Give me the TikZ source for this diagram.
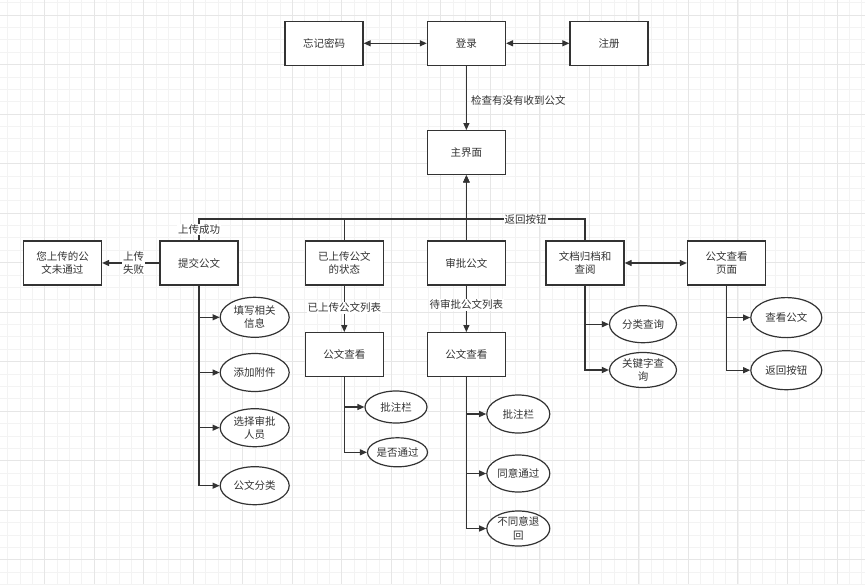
\documentclass[tikz,border=0pt]{standalone}
\usepackage{fontspec}
\setmainfont{Noto Sans CJK SC}
\usetikzlibrary{arrows.meta,shapes.geometric,calc}
\definecolor{ink}{HTML}{333333}
\definecolor{gminor}{HTML}{F3F3F3}
\definecolor{gmajor}{HTML}{E6E6E6}
\tikzset{
  box/.style={draw=ink, line width=1.3pt, fill=white, minimum width=78pt, minimum height=44pt, inner sep=1pt, align=center, text=ink, font=\fontsize{10.5}{13.3}\selectfont},
  oval/.style={ellipse, draw=ink, line width=1.2pt, fill=white, inner sep=0pt, align=center, text=ink, font=\fontsize{10.5}{13.3}\selectfont},
  conn/.style={draw=ink, line width=1.2pt},
  arr/.style={conn, -{Triangle[length=7pt,width=6pt]}},
  dbl/.style={conn, {Triangle[length=7pt,width=6pt]}-{Triangle[length=7pt,width=6pt]}},
  lbl/.style={fill=white, inner sep=1pt, text=ink, align=center, font=\fontsize{10.5}{13.3}\selectfont},
}
\begin{document}
\begin{tikzpicture}[x=1pt, y=-1pt]
\useasboundingbox (0,0) rectangle (865,584);
\fill[white] (0,0) rectangle (865,584);
% grid
\foreach \i in {-3,...,66} {
  \draw[gminor, line width=0.8pt] ({44.7+12.38*\i},0) -- ({44.7+12.38*\i},584);
}
\foreach \j in {-1,...,46} {
  \draw[gminor, line width=0.8pt] (0,{15+12.38*\j}) -- (865,{15+12.38*\j});
}
\foreach \i in {-1,...,17} {
  \draw[gmajor, line width=1pt] ({44.7+49.52*\i},0) -- ({44.7+49.52*\i},584);
}
\foreach \j in {0,...,12} {
  \draw[gmajor, line width=1pt] (0,{15+49.52*\j}) -- (865,{15+49.52*\j});
}

% boxes
\node[box] (forget) at (324,43.3) {忘记密码};
\node[box] (login) at (466.4,43.3) {登录};
\node[box] (reg) at (609,43.3) {注册};
\node[box] (main) at (466.4,152.7) {主界面};
\node[box] (fail) at (62.5,263) {您上传的公\\文未通过};
\node[box] (submit) at (199,263) {提交公文};
\node[box] (status) at (344.3,263) {已上传公文\\的状态};
\node[box] (approve) at (466.4,263) {审批公文};
\node[box] (archive) at (585,263) {文档归档和\\查阅};
\node[box] (viewpage) at (726.5,263) {公文查看\\页面};
\node[box] (view1) at (344.3,354.7) {公文查看};
\node[box] (view2) at (466.4,354.7) {公文查看};

% ellipses
\node[oval, minimum width=69pt, minimum height=40pt] (e1) at (254.7,317.3) {填写相关\\信息};
\node[oval, minimum width=69pt, minimum height=38pt] (e2) at (254.7,372.5) {添加附件};
\node[oval, minimum width=69pt, minimum height=38pt] (e3) at (254.7,427.7) {选择审批\\人员};
\node[oval, minimum width=69pt, minimum height=38pt] (e4) at (254.7,485.7) {公文分类};
\node[oval, minimum width=62pt, minimum height=32pt] (e5) at (396,407) {批注栏};
\node[oval, minimum width=60pt, minimum height=29pt] (e6) at (397.5,452.3) {是否通过};
\node[oval, minimum width=63pt, minimum height=38pt] (e7) at (518.3,414) {批注栏};
\node[oval, minimum width=63pt, minimum height=37pt] (e8) at (518.3,473.5) {同意通过};
\node[oval, minimum width=63pt, minimum height=35pt] (e9) at (518.3,528.5) {不同意退\\回};
\node[oval, minimum width=67pt, minimum height=37pt] (e10) at (643,324.2) {分类查询};
\node[oval, minimum width=67pt, minimum height=35pt] (e11) at (643,370) {关键字查\\询};
\node[oval, minimum width=71pt, minimum height=40pt] (e12) at (786.3,317.6) {查看公文};
\node[oval, minimum width=71pt, minimum height=39pt] (e13) at (786.3,370.2) {返回按钮};

% top connectors
\draw[dbl] (forget) -- (login);
\draw[dbl] (login) -- (reg);
\draw[arr] (login) -- (main);
\node[text=ink, font=\fontsize{10.5}{13.3}\selectfont, anchor=west, inner sep=0pt] (chk) at (471,100) {检查有没有收到公文};

% into main
\coordinate (jn) at (466.4,219);
\draw[arr] (submit.north) |- (jn) -- (main.south);
\draw[arr] (status.north) |- (jn) -- (main.south);
\draw[arr] (approve) -- (main);
\draw[arr] (archive.north) |- (jn) -- (main.south);
\node[lbl] (okl) at (199,229.5) {上传成功};
\node[lbl] (backl) at (525.5,219.5) {返回按钮};

% sideways
\draw[arr] (submit) -- node[lbl, pos=0.45] (faill) {上传\\失败} (fail);
\draw[dbl] (archive) -- (viewpage);

% down
\draw[arr] (status) -- node[lbl, pos=0.48] (l1) {已上传公文列表} (view1);
\draw[arr] (approve) -- node[lbl, pos=0.41] (l2) {待审批公文列表} (view2);

% trunks
\foreach \t in {e1,e2,e3,e4} \draw[arr] (submit) |- (\t);
\foreach \t in {e5,e6} \draw[arr] (view1) |- (\t);
\foreach \t in {e7,e8,e9} \draw[arr] (view2) |- (\t);
\foreach \t in {e10,e11} \draw[arr] (archive) |- (\t);
\foreach \t in {e12,e13} \draw[arr] (viewpage) |- (\t);
\end{tikzpicture}
\end{document}
